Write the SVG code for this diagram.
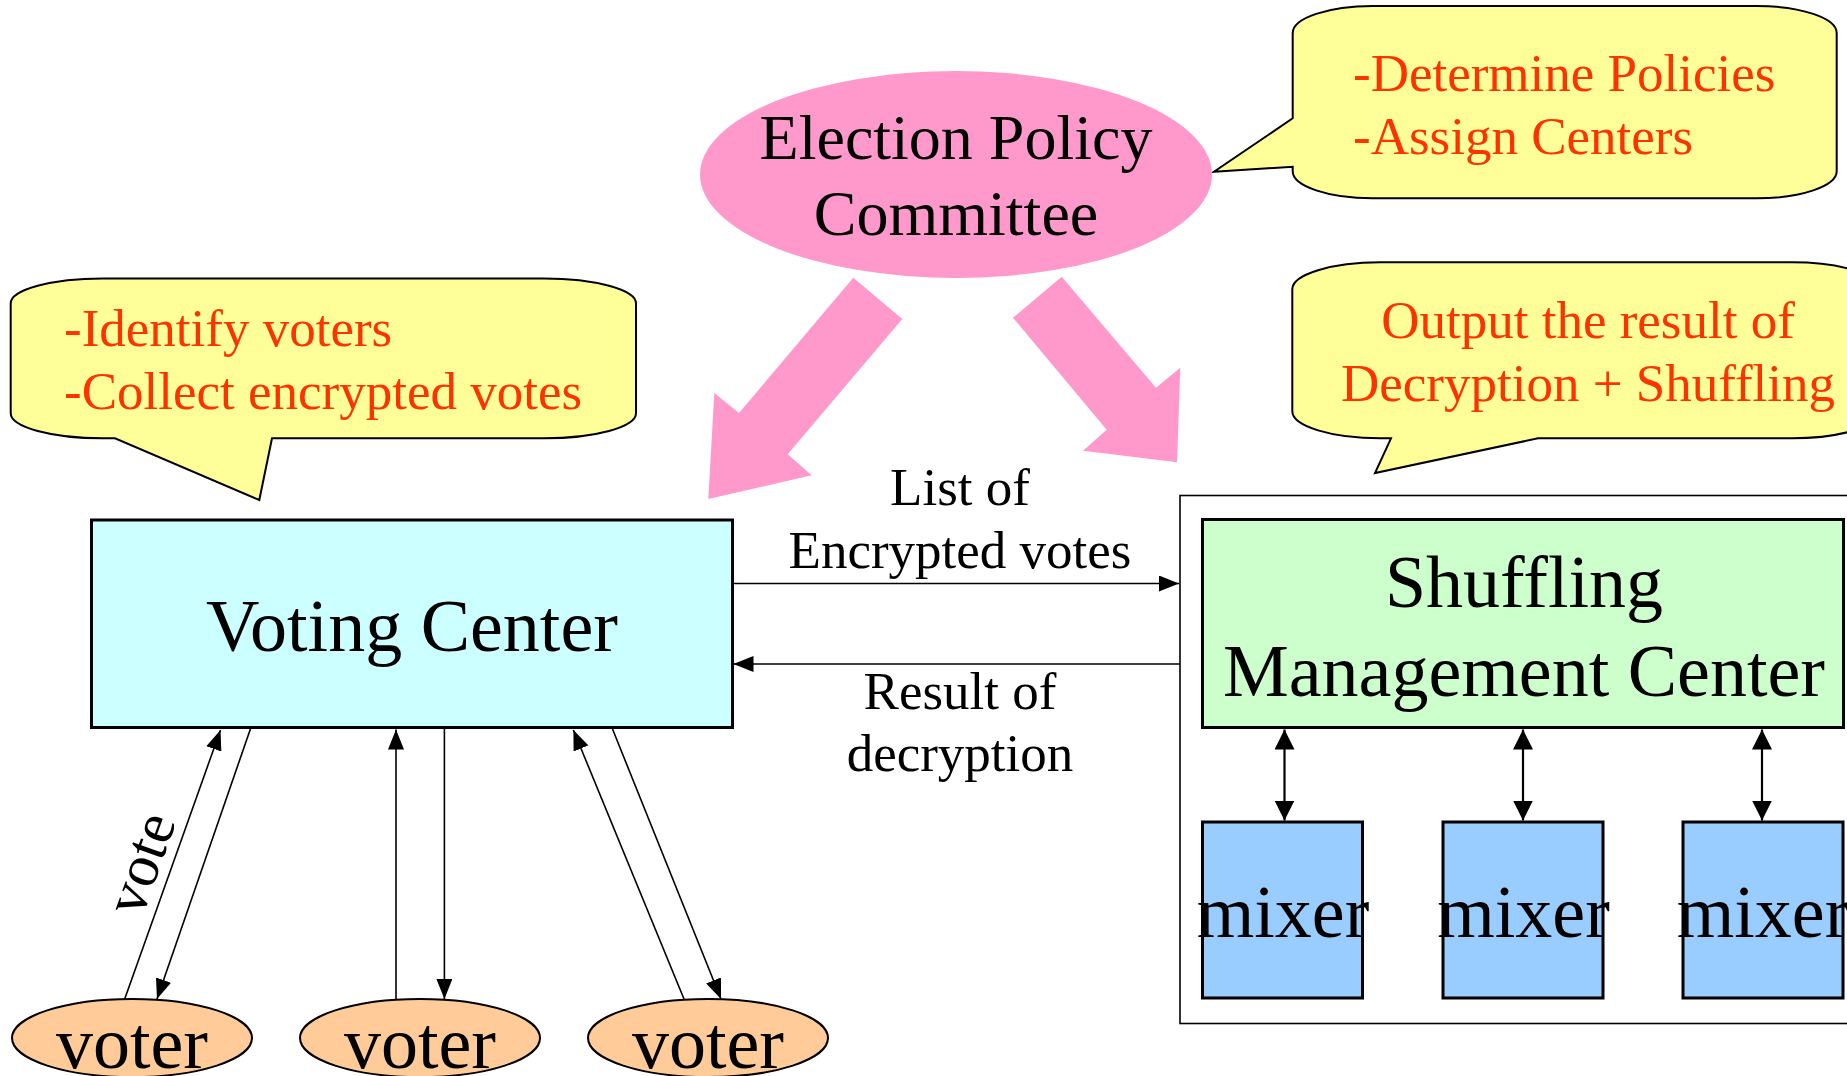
<svg xmlns="http://www.w3.org/2000/svg" width="1847" height="1076" viewBox="0 0 1847 1076">
<style>
text{font-family:"Liberation Serif","Times New Roman",serif;}
.red{fill:#FF3300;font-size:53px;}
.lbl{fill:#000;font-size:53px;text-anchor:middle;}
.big{fill:#000;font-size:74px;text-anchor:middle;}
.callout{fill:#FFFF99;stroke:#000;stroke-width:2;stroke-linejoin:miter;}
.conn{stroke:#000;stroke-width:1.6;fill:none;}
.conn2{stroke:#000;stroke-width:2.2;fill:none;}
.pink{fill:#FF99CC;}
</style>
<defs>
<marker id="ah" viewBox="0 0 20 16" refX="20" refY="8" markerWidth="20" markerHeight="16" markerUnits="userSpaceOnUse" orient="auto-start-reverse">
<path d="M0,0 L20,8 L0,16 z" fill="#000"/>
</marker>
<marker id="ah2" viewBox="0 0 20 20" refX="20" refY="10" markerWidth="20" markerHeight="20" markerUnits="userSpaceOnUse" orient="auto-start-reverse">
<path d="M0,0 L20,10 L0,20 z" fill="#000"/>
</marker>
</defs>
<rect width="1847" height="1076" fill="#fff"/>

<g id="callout-voting">
<path class="callout" d="M102.7,278.5 H544 A92 25 0 0 1 636 303.5 V413.3 A92 25 0 0 1 544 438.3 H272 L259.3 500 L115 438.3 H102.7 A92 25 0 0 1 10.7 413.3 V303.5 A92 25 0 0 1 102.7 278.5 Z"/>
<text class="red" x="64" y="346">-Identify voters</text>
<text class="red" x="64" y="409">-Collect encrypted votes</text>
</g>

<g id="callout-committee">
<path class="callout" d="M1372.7,6 H1756.7 A80 27 0 0 1 1836.7 33 V171.3 A80 27 0 0 1 1756.7 198.3 H1372.7 A80 27 0 0 1 1292.7 171.3 V166.7 L1214 171.7 L1292.7 118.3 V33 A80 27 0 0 1 1372.7 6 Z"/>
<text class="red" x="1353" y="91">-Determine Policies</text>
<text class="red" x="1353" y="154">-Assign Centers</text>
</g>

<g id="callout-shuffling">
<path class="callout" d="M1380.3,262.3 H1792 A88 27 0 0 1 1880 289.3 V411.3 A88 27 0 0 1 1792 438.3 H1538 L1375 473 L1391 438.3 H1380.3 A88 27 0 0 1 1292.3 411.3 V289.3 A88 27 0 0 1 1380.3 262.3 Z"/>
<text class="red" x="1588" y="338" text-anchor="middle">Output the result of</text>
<text class="red" x="1588" y="401" text-anchor="middle">Decryption + Shuffling</text>
</g>

<g id="committee">
<ellipse class="pink" cx="956" cy="174.5" rx="256" ry="103.5"/>
<text x="956" y="159" style="font-size:64px;text-anchor:middle;fill:#000">Election Policy</text>
<text x="956" y="235" style="font-size:64px;text-anchor:middle;fill:#000">Committee</text>
</g>

<g id="shuffling-group">
<rect x="1180" y="495.5" width="680" height="528" fill="#fff" stroke="#000" stroke-width="1.6"/>
</g>

<g id="voting-center">
<rect x="91.5" y="520" width="641" height="207.5" fill="#CCFFFF" stroke="#000" stroke-width="3"/>
<text class="big" x="412" y="651">Voting Center</text>
</g>

<g id="shuffling-center">
<rect x="1202.5" y="519.5" width="641" height="208" fill="#CCFFCC" stroke="#000" stroke-width="3"/>
<text class="big" x="1524" y="607">Shuffling</text>
<text class="big" x="1524" y="696">Management Center</text>
</g>

<g id="mixer1">
<rect x="1202.5" y="822" width="160" height="176" fill="#99CCFF" stroke="#000" stroke-width="3"/>
<text class="big" x="1283" y="937">mixer</text>
</g>
<g id="mixer2">
<rect x="1443" y="822" width="160" height="176" fill="#99CCFF" stroke="#000" stroke-width="3"/>
<text class="big" x="1523.5" y="937">mixer</text>
</g>
<g id="mixer3">
<rect x="1683" y="822" width="160" height="176" fill="#99CCFF" stroke="#000" stroke-width="3"/>
<text class="big" x="1763" y="937">mixer</text>
</g>

<g id="voter1">
<ellipse cx="132" cy="1038" rx="120" ry="39" fill="#FFCC99" stroke="#000" stroke-width="2"/>
<text class="big" x="132" y="1068">voter</text>
</g>
<g id="voter2">
<ellipse cx="420" cy="1038" rx="120" ry="39" fill="#FFCC99" stroke="#000" stroke-width="2"/>
<text class="big" x="420" y="1068">voter</text>
</g>
<g id="voter3">
<ellipse cx="708" cy="1038" rx="120" ry="39" fill="#FFCC99" stroke="#000" stroke-width="2"/>
<text class="big" x="708" y="1068">voter</text>
</g>

<g id="connectors">
<polygon class="pink" points="853.3,277.7 902.3,319 787.7,454.3 811.7,475.3 708.3,499 714.3,393 739,413"/>
<polygon class="pink" points="1061.7,276.7 1156,387.7 1180.3,367.7 1177,462.3 1083,450.7 1106.7,429.7 1013,317.7"/>

<line class="conn" x1="733" y1="583.5" x2="1179" y2="583.5" marker-end="url(#ah)"/>
<line class="conn" x1="1180" y1="664" x2="733.5" y2="664" marker-end="url(#ah)"/>
<text class="lbl" x="960" y="505">List of</text>
<text class="lbl" x="960" y="568">Encrypted votes</text>
<text class="lbl" x="960" y="709">Result of</text>
<text class="lbl" x="960" y="771">decryption</text>

<line class="conn" x1="124.7" y1="999" x2="220.5" y2="730" marker-end="url(#ah)"/>
<line class="conn" x1="250.4" y1="729" x2="157" y2="999" marker-end="url(#ah)"/>
<line class="conn" x1="396" y1="999" x2="396" y2="729.5" marker-end="url(#ah)"/>
<line class="conn" x1="444.4" y1="729" x2="444.4" y2="999" marker-end="url(#ah)"/>
<line class="conn" x1="684" y1="999" x2="573.4" y2="730" marker-end="url(#ah)"/>
<line class="conn" x1="612.5" y1="729" x2="721" y2="999" marker-end="url(#ah)"/>
<text x="159" y="870" transform="rotate(-70.3 159 870)" style="font-size:60px;text-anchor:middle;fill:#000">vote</text>

<line class="conn2" x1="1284.5" y1="729.5" x2="1284.5" y2="820.5" marker-start="url(#ah2)" marker-end="url(#ah2)"/>
<line class="conn2" x1="1523" y1="729.5" x2="1523" y2="820.5" marker-start="url(#ah2)" marker-end="url(#ah2)"/>
<line class="conn2" x1="1762" y1="729.5" x2="1762" y2="820.5" marker-start="url(#ah2)" marker-end="url(#ah2)"/>
</g>
</svg>
